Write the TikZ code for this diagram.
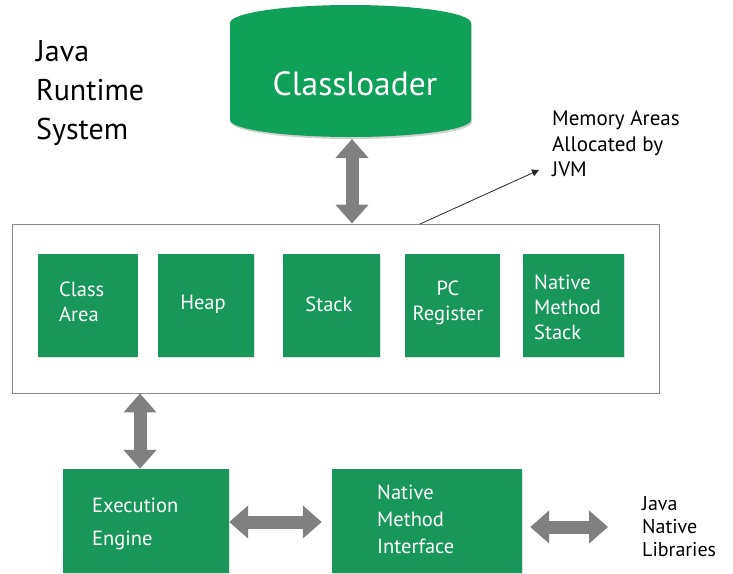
\documentclass[tikz,border=0pt]{standalone}
\usepackage{fontspec}
\setmainfont{PT Sans}
\usetikzlibrary{arrows.meta,shadows}
\definecolor{clgreen}{HTML}{0FA05A}
\definecolor{bxgreen}{HTML}{17985A}
\definecolor{arrgray}{HTML}{808080}
\definecolor{framegray}{HTML}{8A8A8A}
\begin{document}
\begin{tikzpicture}[x=1pt,y=-1pt,
  greenbox/.style={fill=bxgreen, inner sep=0pt, drop shadow={shadow xshift=0.6pt, shadow yshift=-1.2pt, opacity=0.25}},
  boxtext/.style={text=white, align=left, inner sep=0pt, font=\fontsize{20.5}{25}\selectfont},
  plaintext/.style={text=black, align=left, inner sep=0pt},
  bigarrow/.style={draw=arrgray, line width=13pt, {Triangle[length=19pt,width=32pt]}-{Triangle[length=19pt,width=32pt]}},
  thinarrow/.style={draw=black!85, line width=0.8pt, -{Triangle[length=7pt,width=7pt]}}
]
\useasboundingbox (0,0) rectangle (733,573);
\fill[white] (0,0) rectangle (733,573);

% title
\node[plaintext, anchor=west, font=\fontsize{30}{39}\selectfont] (title) at (36,93) {Java\\Runtime\\System};

% classloader
\fill[black, opacity=0.18] (231,122) arc[start angle=180,end angle=360,x radius=120.5pt,y radius=17pt] -- (472,25) arc[start angle=0,end angle=180,x radius=120.5pt,y radius=18pt] -- cycle;
\fill[clgreen] (230,120) arc[start angle=180,end angle=360,x radius=120.5pt,y radius=17pt] -- (471,23) arc[start angle=0,end angle=180,x radius=120.5pt,y radius=18pt] -- cycle;
\node[text=white, inner sep=0pt, font=\fontsize{33.5}{38}\selectfont] (cl) at (355,84) {Classloader};
\coordinate (clb) at (352,139);

% memory container
\node[draw=framegray, line width=0.9pt, minimum width=647pt, minimum height=169pt, inner sep=0pt] (mem) at (336,308.5) {};

% memory boxes
\node[greenbox, minimum width=100pt, minimum height=103pt] (ca) at (87.5,305.5) {};
\node[greenbox, minimum width=96pt, minimum height=103pt] (hp) at (206,305.5) {};
\node[greenbox, minimum width=97pt, minimum height=103pt] (st) at (331.5,305.5) {};
\node[greenbox, minimum width=95pt, minimum height=103pt] (pc) at (452,305.5) {};
\node[greenbox, minimum width=101pt, minimum height=103pt] (nm) at (573.5,305.5) {};

\node[boxtext, anchor=west] (catx) at (59,302) {Class\\Area};
\node[boxtext] (hptx) at (203,304) {Heap};
\node[boxtext] (sttx) at (329,304) {Stack};
\node[boxtext, align=center] (pctx) at (448,303) {PC\\Register};
\node[boxtext, anchor=west] (nmtx) at (534,307) {Native\\Method\\Stack};

% memory label
\node[plaintext, anchor=west, font=\fontsize{21}{25.5}\selectfont] (memlbl) at (552,144) {Memory Areas\\Allocated by\\JVM};
\coordinate (annS) at (420,224);
\coordinate (annE) at (539,170);
\draw[thinarrow] (annS) -- (annE);

% bottom boxes
\node[greenbox, minimum width=166pt, minimum height=104pt] (ee) at (146,521) {};
\node[greenbox, minimum width=190pt, minimum height=104pt] (nmi) at (427,521) {};
\node[boxtext, anchor=west, font=\fontsize{20.5}{33}\selectfont] (eetx) at (92,524) {Execution\\Engine};
\node[boxtext, anchor=west, font=\fontsize{20.5}{27}\selectfont] (nmitx) at (377,519) {Native\\Method\\Interface};
\node[plaintext, anchor=west, font=\fontsize{20}{23}\selectfont] (jnl) at (642,527) {Java\\Native\\Libraries};

% arrows
\draw[bigarrow] (clb) -- (clb |- mem.north);
\draw[bigarrow] (mem.south -| 140,0) -- (ee.north -| 140,0);
\draw[bigarrow, shorten >=10pt] (ee.east |- 0,522) -- (nmi.west |- 0,522);
\draw[bigarrow, shorten <=8pt, shorten >=34pt] (nmi.east |- 0,527) -- (jnl.west |- 0,527);
\end{tikzpicture}
\end{document}
